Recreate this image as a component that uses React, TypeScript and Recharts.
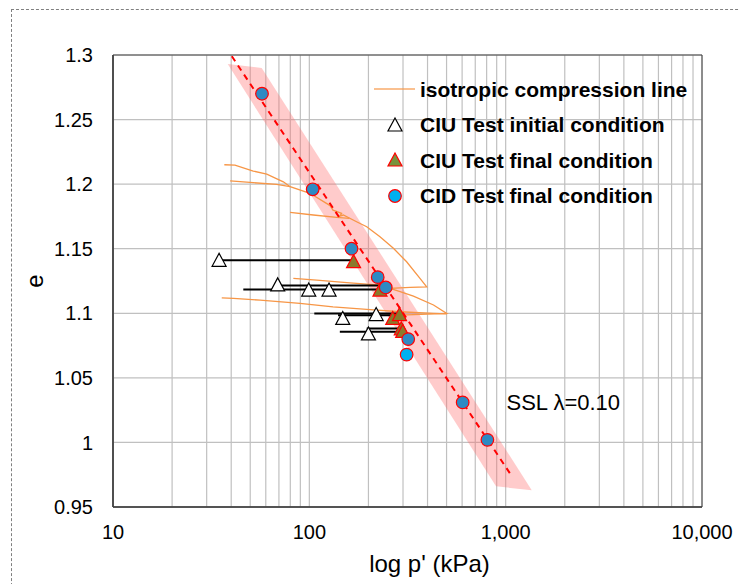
import React from "react";
import {
  ScatterChart, Scatter, XAxis, YAxis, CartesianGrid, Legend,
  ReferenceArea, ReferenceDot,
} from "recharts";

const FONT = "'Liberation Sans', Arial, sans-serif";

// axis ticks
const xTicks = [
  10, 20, 30, 40, 50, 60, 70, 80, 90,
  100, 200, 300, 400, 500, 600, 700, 800, 900,
  1000, 2000, 3000, 4000, 5000, 6000, 7000, 8000, 9000, 10000,
];
const xLabelled = [10, 100, 1000, 10000];
const yTicks = [0.95, 1, 1.05, 1.1, 1.15, 1.2, 1.25, 1.3];

// SSL band and fitted line
const sslBand = [
  { p: 38.4, e: 1.293 },
  { p: 57.2, e: 1.29 },
  { p: 1358, e: 0.963 },
  { p: 893, e: 0.966 },
];
const sslLine = [
  { p: 40.3, e: 1.299 },
  { p: 1074, e: 0.974 },
];

// isotropic compression curves
const icA = [
  { p: 36.9, e: 1.215 }, { p: 41.8, e: 1.2148 }, { p: 51.8, e: 1.2101 },
  { p: 60.7, e: 1.2078 }, { p: 73.7, e: 1.2018 }, { p: 79.8, e: 1.198 },
  { p: 100.8, e: 1.1929 }, { p: 127.5, e: 1.1834 }, { p: 132, e: 1.1799 },
  { p: 146, e: 1.1774 }, { p: 143, e: 1.1753 }, { p: 149, e: 1.1761 },
  { p: 174, e: 1.1709 }, { p: 196, e: 1.167 }, { p: 229, e: 1.1593 },
  { p: 268, e: 1.1503 }, { p: 313, e: 1.1399 }, { p: 366, e: 1.127 },
  { p: 396, e: 1.1205 }, { p: 326, e: 1.1201 }, { p: 258, e: 1.1193 },
];
const icB = [
  { p: 39.5, e: 1.2026 }, { p: 51.8, e: 1.2011 }, { p: 68.2, e: 1.1998 },
  { p: 79.8, e: 1.198 },
];
const icC = [
  { p: 79.8, e: 1.1782 }, { p: 104.8, e: 1.1761 }, { p: 138, e: 1.1743 },
  { p: 160, e: 1.1735 },
];
const icD = [
  { p: 82.9, e: 1.127 }, { p: 109, e: 1.1257 }, { p: 161, e: 1.1236 },
  { p: 229, e: 1.1218 }, { p: 290, e: 1.1167 }, { p: 339, e: 1.1133 },
  { p: 429, e: 1.1064 }, { p: 501, e: 1.0999 }, { p: 290, e: 1.0986 },
];
const icE = [
  { p: 35.8, e: 1.112 }, { p: 41.1, e: 1.1115 }, { p: 56.1, e: 1.1102 },
  { p: 89.6, e: 1.1077 }, { p: 132, e: 1.105 }, { p: 196, e: 1.103 },
  { p: 290, e: 1.1012 }, { p: 429, e: 1.0999 }, { p: 501, e: 1.0995 },
];

// CIU stress paths (initial -> final)
const paths = [
  [{ p: 35, e: 1.141 }, { p: 168, e: 1.141 }],
  [{ p: 70, e: 1.1215 }, { p: 229, e: 1.1215 }],
  [{ p: 46.1, e: 1.1185 }, { p: 232, e: 1.1185 }],
  [{ p: 106, e: 1.0999 }, { p: 290, e: 1.0999 }],
  [{ p: 140, e: 1.0985 }, { p: 270, e: 1.0985 }],
  [{ p: 143, e: 1.0857 }, { p: 290, e: 1.0857 }],
  [{ p: 196, e: 1.0883 }, { p: 296, e: 1.0883 }],
];

const ciuInitial = [
  { p: 34.7, e: 1.141 }, { p: 69, e: 1.122 }, { p: 99.3, e: 1.118 },
  { p: 126, e: 1.118 }, { p: 148, e: 1.096 }, { p: 219, e: 1.099 },
  { p: 200, e: 1.084 },
];
const ciuFinal = [
  { p: 168, e: 1.14 }, { p: 229, e: 1.118 }, { p: 266, e: 1.096 },
  { p: 288, e: 1.099 }, { p: 294, e: 1.088 }, { p: 299, e: 1.086 },
];
const cidFinal = [
  { p: 57.4, e: 1.27 }, { p: 104, e: 1.196 }, { p: 164, e: 1.15 },
  { p: 223, e: 1.128 }, { p: 245, e: 1.12 }, { p: 319, e: 1.08 },
  { p: 604, e: 1.031 }, { p: 807, e: 1.002 },
];
const cidFinalLight = [{ p: 313, e: 1.068 }];

const legendNames = [
  "isotropic compression line",
  "CIU Test initial condition",
  "CIU Test final condition",
  "CID Test final condition",
];

const ORANGE = "#f79646";

const noDot = () => <g />;

const Triangle = (props: any) => {
  const { cx, cy, fill, stroke } = props;
  return (
    <polygon
      points={`${cx},${cy - 7} ${cx + 7},${cy + 6} ${cx - 7},${cy + 6}`}
      fill={fill}
      stroke={stroke}
      strokeWidth={1.2}
    />
  );
};

const Dot = (props: any) => {
  const { cx, cy, fill } = props;
  return <circle cx={cx} cy={cy} r={6.3} fill={fill} stroke="#ff0000" strokeWidth={1.2} />;
};

function LegendBox() {
  const icons = [
    <line key="l" x1={2} y1={17} x2={43} y2={17} stroke={ORANGE} strokeOpacity={0.8} strokeWidth={1.5} />,
    <polygon key="t1" points="23,10 30,23 16,23" fill="#fff" stroke="#000" strokeWidth={1.2} />,
    <polygon key="t2" points="23,10 30,23 16,23" fill="#77933c" stroke="#ff0000" strokeWidth={1.2} />,
    <circle key="c" cx={23} cy={17} r={6.3} fill="#00b0f0" stroke="#ff0000" strokeWidth={1.2} />,
  ];
  return (
    <div style={{ fontFamily: FONT }}>
      {legendNames.map((name, i) => (
        <div key={name} style={{ display: "flex", alignItems: "center", height: 35.5 }}>
          <svg width={48} height={35} style={{ flexShrink: 0 }}>{icons[i]}</svg>
          <span style={{ fontSize: 21, fontWeight: 700, color: "#000", whiteSpace: "nowrap" }}>{name}</span>
        </div>
      ))}
    </div>
  );
}

export default function App() {
  return (
    <div style={{ position: "absolute", left: 0, top: 0, width: 740, height: 584, overflow: "hidden", background: "#fff" }}>
      <div style={{ position: "absolute", left: 11, top: 9, width: 780, height: 620, border: "1px dashed #808080" }} />
      <div style={{ position: "absolute", left: 0, top: 0 }}>
        <ScatterChart width={740} height={584} margin={{ top: 55, right: 38, bottom: 0, left: 0 }}>
          <CartesianGrid stroke="#c0c0c0" strokeWidth={1.2} />
          <XAxis
            type="number"
            dataKey="p"
            scale="log"
            domain={[10, 10000]}
            ticks={xTicks}
            interval={0}
            allowDataOverflow
            height={77}
            tickLine={false}
            tickSize={0}
            tickMargin={18}
            axisLine={{ stroke: "#404040", strokeWidth: 1.6 }}
            tick={{ fill: "#000", fontSize: 20, fontFamily: FONT }}
            tickFormatter={(v: number) => (xLabelled.includes(v) ? v.toLocaleString("en-US") : "")}
            label={{ value: "log p' (kPa)", position: "insideBottom", offset: 12, dx: 22, fontSize: 24, fill: "#000", fontFamily: FONT }}
          />
          <YAxis
            type="number"
            dataKey="e"
            domain={[0.95, 1.3]}
            ticks={yTicks}
            interval={0}
            allowDataOverflow
            width={113}
            tickLine={false}
            tickSize={0}
            tickMargin={20}
            axisLine={{ stroke: "#404040", strokeWidth: 1.6 }}
            tick={{ fill: "#000", fontSize: 20, fontFamily: FONT }}
            tickFormatter={(v: number) => String(v)}
            label={{ value: "e", angle: -90, position: "insideLeft", offset: 34, textAnchor: "middle", fontSize: 24, fill: "#000", fontFamily: FONT }}
          />
          <ReferenceArea x1={10} x2={10000} y1={0.95} y2={1.3} fill="none" stroke="#404040" strokeWidth={1} />

          <Scatter data={sslBand} shape={noDot} line={{ fill: "#ff6b6b", fillOpacity: 0.35, stroke: "none" }} isAnimationActive={false} />

          {[icA, icB, icC, icD, icE].map((d, i) => (
            <Scatter key={"ic" + i} data={d} shape={noDot} line={{ stroke: ORANGE, strokeWidth: 1.3 }} isAnimationActive={false} />
          ))}

          {paths.map((d, i) => (
            <Scatter key={"sp" + i} data={d} shape={noDot} line={{ stroke: "#000", strokeWidth: 2 }} isAnimationActive={false} />
          ))}

          <Scatter data={ciuInitial} fill="#fff" stroke="#000" shape={Triangle} isAnimationActive={false} />
          <Scatter data={ciuFinal} fill="#8a7a2c" stroke="#ff0000" shape={Triangle} isAnimationActive={false} />

          <Scatter data={sslLine} shape={noDot} line={{ stroke: "#ff0000", strokeWidth: 2, strokeDasharray: "6 5" }} isAnimationActive={false} />

          <Scatter data={cidFinal} fill="#2e8ac3" shape={Dot} isAnimationActive={false} />
          <Scatter data={cidFinalLight} fill="#00b0f0" shape={Dot} isAnimationActive={false} />

          <ReferenceDot
            x={1010}
            y={1.031}
            r={0}
            stroke="none"
            label={{ value: "SSL λ=0.10", position: "right", offset: 0, fontSize: 22, fill: "#000", fontFamily: FONT }}
          />

          <Legend
            layout="vertical"
            align="center"
            verticalAlign="middle"
            wrapperStyle={{ left: 372, top: 72, width: 330, height: 145 }}
            content={() => <LegendBox />}
          />
        </ScatterChart>
      </div>
    </div>
  );
}
